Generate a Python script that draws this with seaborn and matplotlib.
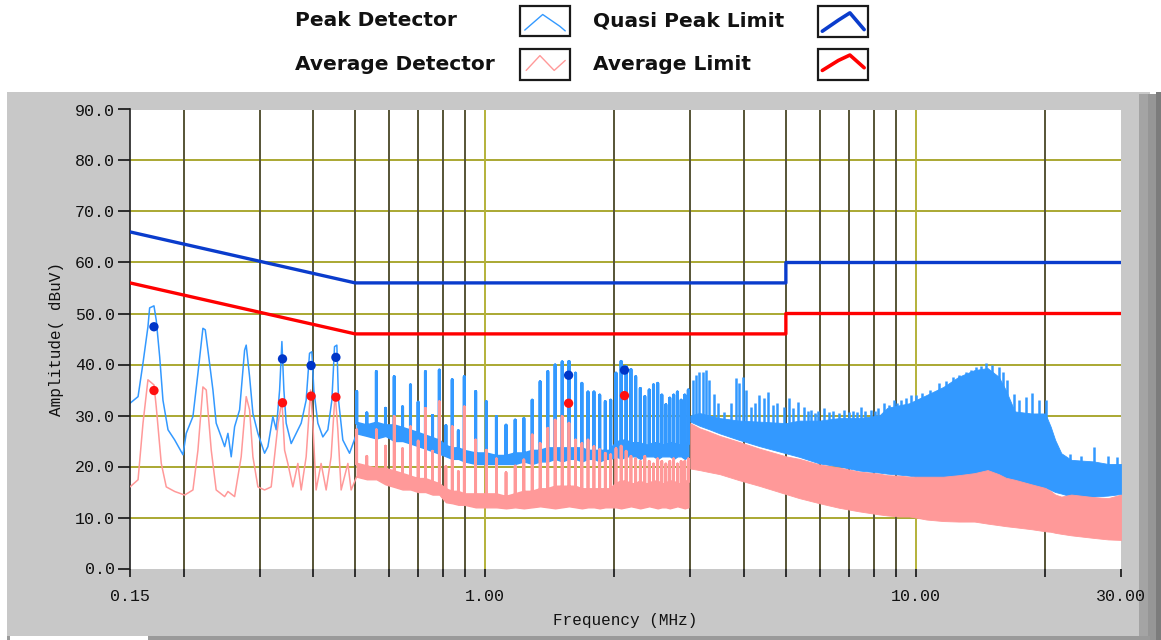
import numpy as np
import pandas as pd
import matplotlib
matplotlib.use("Agg")
import matplotlib.pyplot as plt
import seaborn as sns
from matplotlib.patches import Rectangle

# ---------------- data ----------------
qp_limit_f = [0.15, 0.5, 5.0, 5.0, 30.0]
qp_limit_v = [66.0, 56.0, 56.0, 60.0, 60.0]
av_limit_f = [0.15, 0.5, 5.0, 5.0, 30.0]
av_limit_v = [56.0, 46.0, 46.0, 50.0, 50.0]

qp_read_f = [0.1705, 0.339, 0.395, 0.451, 1.565, 2.110]
qp_read_v = [47.4, 41.1, 39.8, 41.4, 37.9, 38.9]
av_read_f = [0.1705, 0.339, 0.395, 0.451, 1.565, 2.110]
av_read_v = [34.9, 32.5, 33.8, 33.6, 32.4, 33.9]

# peak detector trace, 0.15 - 0.5 MHz
pk_low_f = [0.150, 0.1566, 0.1608, 0.1651, 0.1666, 0.1705, 0.1726, 0.1758, 0.1789, 0.1838,
            0.1905, 0.1991, 0.2026, 0.2100, 0.2157, 0.2215, 0.2243, 0.2275, 0.2337, 0.2378,
            0.2443, 0.2488, 0.2532, 0.2577, 0.2624, 0.2695, 0.2768, 0.2792, 0.2843, 0.2894,
            0.2972, 0.3080, 0.3135, 0.3220, 0.3278, 0.3338, 0.3379, 0.3415, 0.3457, 0.3551,
            0.3647, 0.3746, 0.3847, 0.3917, 0.3966, 0.4008, 0.4095, 0.4206, 0.4320, 0.4414,
            0.4477, 0.4533, 0.4574, 0.4680, 0.4851]
pk_low_v = [32.4, 33.7, 40.3, 47.4, 51.1, 51.5, 48.7, 41.5, 33.0, 27.2,
            25.2, 22.3, 26.5, 29.8, 38.3, 47.1, 46.8, 42.8, 35.0, 28.5,
            25.8, 23.9, 26.5, 21.9, 27.8, 31.1, 42.8, 43.8, 37.6, 30.4,
            26.5, 22.6, 23.9, 29.8, 27.2, 35.0, 44.5, 35.0, 28.5, 24.5,
            26.5, 28.5, 33.0, 42.2, 42.5, 35.0, 28.5, 25.8, 27.2, 33.0,
            43.5, 43.8, 33.0, 25.2, 22.6]

# average detector trace, 0.15 - 0.5 MHz
av_low_f = [0.150, 0.1566, 0.1608, 0.1651, 0.1705, 0.1726, 0.1773, 0.1821, 0.1905, 0.2009,
            0.2100, 0.2157, 0.2215, 0.2255, 0.2316, 0.2378, 0.2488, 0.2532, 0.2624, 0.2718,
            0.2792, 0.2843, 0.2894, 0.2972, 0.3080, 0.3191, 0.3312, 0.3379, 0.3428, 0.3488,
            0.3583, 0.3680, 0.3746, 0.3847, 0.3939, 0.3987, 0.4057, 0.4167, 0.4281, 0.4396,
            0.4491, 0.4557, 0.4638, 0.4808, 0.4892]
av_low_v = [16.0, 17.4, 28.5, 37.0, 36.0, 31.7, 20.6, 16.0, 15.1, 14.4,
            15.4, 23.2, 35.6, 35.0, 23.2, 15.4, 14.1, 15.1, 14.1, 21.9,
            33.7, 31.1, 21.9, 16.0, 15.4, 16.0, 28.5, 33.0, 23.2, 20.6,
            16.0, 20.6, 15.4, 21.9, 35.0, 28.5, 15.4, 20.6, 15.4, 21.9,
            34.4, 27.2, 15.4, 20.6, 15.4]

# harmonic spikes, 0.5 - 3 MHz
spk_f = [0.504, 0.532, 0.560, 0.588, 0.616, 0.644, 0.672, 0.700, 0.728, 0.756,
         0.784, 0.812, 0.840, 0.868, 0.896, 0.952, 1.008, 1.064, 1.120, 1.176,
         1.232, 1.288, 1.344, 1.400, 1.456, 1.512, 1.568, 1.624, 1.680, 1.736,
         1.792, 1.848, 1.904, 1.960, 2.016, 2.072, 2.128, 2.184, 2.240, 2.296,
         2.352, 2.408, 2.464, 2.520, 2.576, 2.632, 2.688, 2.744, 2.800, 2.856,
         2.912, 2.968]
pk_spk_top = [34.7, 30.5, 38.6, 31.4, 37.6, 31.7, 36.0, 32.6, 38.6, 30.0,
              38.9, 28.0, 37.0, 27.0, 37.6, 34.7, 32.7, 29.8, 28.1, 29.1,
              29.4, 33.0, 36.6, 38.6, 39.9, 40.5, 40.6, 38.3, 36.3, 34.6,
              34.6, 34.0, 32.7, 33.0, 38.3, 40.6, 39.6, 39.0, 37.6, 35.3,
              33.7, 35.0, 36.0, 36.3, 34.0, 32.1, 33.4, 34.0, 34.6, 33.0,
              34.0, 35.0]
pk_spk_body = [28.5, 28.0, 28.5, 28.0, 28.0, 27.5, 27.0, 26.5, 26.0, 25.5,
               25.0, 24.0, 23.5, 23.5, 23.0, 22.5, 22.5, 22.0, 22.0, 22.5,
               22.5, 23.0, 23.0, 23.5, 23.5, 23.5, 23.5, 23.5, 23.5, 23.0,
               23.0, 23.0, 23.0, 23.0, 24.5, 25.0, 25.0, 24.5, 24.5, 24.5,
               24.0, 24.0, 24.5, 24.5, 24.0, 24.0, 24.5, 24.5, 24.0, 24.0,
               24.5, 24.5]
pk_spk_base = [26.5, 26.0, 25.5, 26.0, 25.0, 25.0, 24.5, 24.0, 23.5, 23.0,
               22.5, 22.0, 21.5, 21.5, 21.0, 20.5, 20.5, 20.5, 20.5, 20.5,
               21.0, 20.5, 21.0, 21.0, 21.5, 21.0, 21.5, 21.5, 21.0, 21.5,
               21.5, 21.0, 21.5, 21.5, 22.0, 21.5, 22.0, 22.0, 22.0, 21.5,
               22.0, 22.0, 22.0, 21.5, 22.0, 22.0, 22.0, 21.5, 22.0, 22.0,
               21.5, 22.0]
av_spk_top = [27.2, 22.0, 27.2, 24.0, 29.8, 23.5, 27.8, 25.0, 31.4, 23.0,
              32.7, 20.0, 27.8, 19.0, 31.7, 25.2, 23.2, 21.5, 18.8, 20.1,
              21.3, 26.2, 24.5, 27.5, 29.1, 29.8, 28.5, 25.2, 24.5, 25.2,
              23.9, 23.3, 22.6, 22.3, 23.5, 24.0, 23.0, 22.0, 21.5, 21.0,
              22.0, 21.0, 20.5, 21.5, 21.0, 20.5, 21.0, 21.5, 20.5, 21.0,
              21.0, 21.5]
av_spk_body = [20.5, 20.0, 19.5, 19.5, 19.0, 18.5, 18.0, 17.5, 17.5, 17.0,
               16.5, 15.5, 15.0, 15.0, 14.5, 14.5, 14.5, 14.5, 14.0, 14.5,
               15.0, 15.0, 15.5, 15.5, 16.0, 16.0, 16.0, 16.0, 15.5, 15.5,
               15.5, 15.5, 15.5, 15.5, 16.5, 17.0, 17.0, 16.5, 16.5, 17.0,
               16.5, 16.5, 17.0, 17.0, 16.5, 16.5, 17.0, 17.0, 16.5, 16.5,
               17.0, 17.0]
av_spk_base = [18.0, 17.5, 17.5, 16.5, 16.0, 15.5, 15.5, 15.0, 15.0, 14.5,
               14.5, 13.0, 12.8, 12.5, 12.5, 12.0, 12.0, 12.0, 11.8, 12.0,
               11.8, 12.0, 12.2, 12.0, 11.8, 12.0, 12.2, 12.0, 11.8, 12.0,
               12.0, 11.8, 12.0, 12.0, 12.0, 11.8, 12.0, 12.2, 12.0, 11.8,
               12.0, 12.2, 12.0, 11.8, 12.0, 12.0, 11.8, 12.0, 12.2, 12.0,
               11.8, 12.0]

# dense band, 3 - 30 MHz (envelopes)
band_f = [3.0, 3.15, 3.32, 3.51, 3.9, 4.34, 5.0, 5.37, 5.98, 6.65,
          7.4, 8.24, 8.6, 9.17, 9.67, 10.0, 10.6, 11.6, 12.6, 13.7,
          14.7, 15.6, 16.2, 17.0, 18.6, 20.0, 20.6, 21.1, 21.8, 23.0,
          25.9, 28.0, 30.0]
pk_band_hi = [30.0, 30.5, 30.0, 29.5, 29.0, 28.8, 28.5, 29.0, 29.0, 29.5,
              29.5, 30.0, 31.5, 32.0, 32.4, 33.0, 34.0, 35.6, 37.6, 38.9,
              39.3, 37.6, 35.0, 30.8, 30.4, 30.4, 27.8, 25.2, 22.6, 21.3,
              21.0, 20.5, 20.5]
pk_band_lo = [28.8, 28.0, 27.3, 26.5, 25.2, 24.0, 22.6, 21.9, 20.6, 20.0,
              19.2, 18.8, 18.6, 18.4, 18.2, 18.0, 17.8, 17.5, 17.6, 18.0,
              17.8, 17.4, 17.2, 16.8, 16.2, 15.8, 15.4, 15.0, 14.7, 14.1,
              14.1, 14.3, 14.6]
av_band_hi = [28.5, 27.5, 26.8, 26.0, 24.8, 23.5, 22.0, 21.5, 20.4, 19.8,
              19.0, 18.6, 18.3, 18.2, 18.0, 18.0, 18.0, 18.0, 18.3, 18.7,
              19.3, 18.5, 17.8, 17.4, 16.5, 15.8, 15.2, 14.5, 14.1, 14.5,
              14.0, 13.8, 14.5]
av_band_lo = [19.6, 19.3, 18.9, 18.5, 17.3, 16.2, 14.6, 13.8, 12.8, 11.9,
              11.2, 10.6, 10.4, 10.2, 10.2, 10.0, 9.6, 9.3, 9.2, 9.2,
              8.8, 8.5, 8.3, 8.1, 7.7, 7.3, 7.2, 7.0, 6.8, 6.5,
              6.0, 5.7, 5.6]

# peak-detector spikes rising above the dense band
hf_spk_f = [3.04, 3.09, 3.15, 3.21, 3.26, 3.32, 3.41, 3.47, 3.60, 3.73,
            3.83, 3.90, 3.97, 4.04, 4.15, 4.25, 4.34, 4.46, 4.54, 4.66,
            4.78, 4.96, 5.09, 5.20, 5.33, 5.52, 5.62, 5.72, 5.85, 5.95,
            6.14, 6.30, 6.45, 6.65, 6.83, 7.00, 7.15, 7.30, 7.47, 7.65,
            7.88, 8.05, 8.20, 8.46, 8.70, 8.93, 9.05, 9.25, 9.50, 9.76,
            10.00, 10.38, 10.80, 11.35, 11.75, 12.19, 12.60, 13.09, 13.45, 13.81,
            14.20, 14.57, 15.09, 15.64, 16.00, 16.35, 16.94, 17.40, 18.03, 18.68,
            19.37, 20.04, 22.8, 24.2, 25.9, 28.0, 29.3]
hf_spk_top = [37.0, 37.9, 38.6, 38.6, 38.9, 37.0, 34.3, 32.4, 30.7, 32.4,
              37.3, 36.3, 37.6, 35.0, 31.7, 32.5, 34.0, 33.4, 34.7, 32.0,
              32.4, 31.7, 33.4, 31.5, 32.7, 31.7, 30.8, 31.1, 30.5, 30.8,
              31.4, 30.6, 30.8, 30.5, 31.1, 30.6, 30.8, 30.6, 31.7, 30.8,
              31.1, 30.8, 31.4, 32.4, 32.0, 33.0, 32.5, 33.0, 33.4, 34.0,
              34.0, 34.4, 35.0, 36.3, 36.8, 37.6, 38.0, 38.6, 39.0, 39.6,
              39.8, 40.2, 40.0, 39.6, 38.5, 37.0, 34.3, 33.0, 33.7, 34.4,
              33.0, 33.0, 22.5, 22.0, 23.9, 22.0, 21.8]
hf_spk_base = [29.0, 29.0, 29.0, 29.0, 29.0, 29.0, 28.0, 28.0, 28.0, 28.0,
               28.0, 28.0, 28.0, 28.0, 28.0, 28.0, 28.0, 28.0, 28.0, 28.0,
               28.0, 28.0, 28.0, 28.0, 28.0, 28.0, 28.0, 28.0, 28.0, 28.0,
               28.0, 28.0, 28.0, 28.0, 28.0, 28.0, 28.0, 28.0, 28.0, 28.0,
               28.0, 28.0, 28.0, 28.0, 28.0, 30.0, 30.0, 30.0, 30.0, 31.0,
               31.0, 32.0, 32.0, 34.0, 34.0, 35.0, 35.0, 36.0, 36.0, 37.0,
               37.0, 37.0, 37.0, 36.0, 35.0, 34.0, 30.0, 29.0, 29.0, 29.0,
               29.0, 29.0, 20.0, 20.0, 20.0, 20.0, 20.0]

y_ticks = [0, 10, 20, 30, 40, 50, 60, 70, 80, 90]
y_tick_labels = ["0.0", "10.0", "20.0", "30.0", "40.0", "50.0", "60.0", "70.0", "80.0", "90.0"]
x_major = [0.15, 1.0, 10.0, 30.0]
x_major_labels = ["0.15", "1.00", "10.00", "30.00"]
x_minor = [0.2, 0.3, 0.4, 0.5, 0.6, 0.7, 0.8, 0.9, 2, 3, 4, 5, 6, 7, 8, 9, 20]

legend_items = ["Peak Detector", "Average Detector", "Quasi Peak Limit", "Average Limit"]

# ---------------- style ----------------
sns.set_theme(style="white")
plt.rcParams['font.family'] = ['DejaVu Sans']

PK_COL = '#3399ff'
AV_COL = '#ff9999'
QP_LIM = '#0a3ccc'
AV_LIM = '#ff0000'
GRID_H = '#aaa832'
GRID_V = '#565436'
GRID_MAJ = '#b4b23a'
MONO = 'Liberation Mono'

W, H = 1161, 640
fig = plt.figure(figsize=(W / 100, H / 100), dpi=100)
fig.patch.set_facecolor('white')

# background panel (pixel coordinates)
bg = fig.add_axes([0, 0, 1, 1], zorder=0)
bg.set_xlim(0, W)
bg.set_ylim(H, 0)
bg.axis('off')
bg.add_patch(Rectangle((7, 92), 1143, 548, facecolor='#c8c8c8', edgecolor='none'))
bg.add_patch(Rectangle((1139, 94), 9, 546, facecolor='#a4a4a4', edgecolor='none'))
bg.add_patch(Rectangle((1148, 94), 8, 546, facecolor='#969696', edgecolor='none'))
bg.add_patch(Rectangle((1156, 92), 5, 548, facecolor='#7c7c7c', edgecolor='none'))
bg.add_patch(Rectangle((7, 636), 1143, 4, facecolor='#9a9a9a', edgecolor='none'))
bg.add_patch(Rectangle((10, 636), 138, 4, facecolor='white', edgecolor='none'))

# legend
text_pos = [(295, 21), (295, 64), (593, 21), (593, 64)]
for (tx, ty), lab in zip(text_pos, legend_items):
    bg.text(tx, ty, lab, fontsize=14.5, fontweight='bold', color='#111111',
            va='center', ha='left', family='DejaVu Sans')
boxes = [(520, 6, 50, 30), (520, 49, 50, 31), (818, 6, 50, 31), (818, 49, 50, 31)]
icons = [
    ([0.06, 0.45, 0.82, 0.94], [0.85, 0.25, 0.70, 0.88], PK_COL, 1.0),
    ([0.09, 0.39, 0.70, 0.94], [0.72, 0.17, 0.72, 0.35], AV_COL, 1.0),
    ([0.05, 0.40, 0.65, 0.96], [0.86, 0.45, 0.18, 0.80], QP_LIM, 2.6),
    ([0.05, 0.40, 0.65, 0.96], [0.72, 0.35, 0.15, 0.62], AV_LIM, 2.6),
]
for (bx, by, bw, bh), (ix, iy, col, lw) in zip(boxes, icons):
    bg.add_patch(Rectangle((bx, by), bw, bh, facecolor='white', edgecolor='#1a1a1a', lw=1.6))
    bg.plot([bx + 2 + v * (bw - 4) for v in ix], [by + 2 + v * (bh - 4) for v in iy],
            color=col, lw=lw, solid_joinstyle='round')

# main axes
x0, x1, ytop, ybot = 130, 1121, 109.5, 568.5
ax = fig.add_axes([x0 / W, (H - ybot) / H, (x1 - x0) / W, (ybot - ytop) / H], zorder=2)
ax.set_facecolor('white')
ax.set_xscale('log')
ax.set_xlim(0.15, 30)
ax.set_ylim(0, 90)

# grid
for yv in y_ticks[1:-1]:
    ax.axhline(yv, color=GRID_H, lw=1.4, zorder=0.5)
for xv in x_minor:
    ax.axvline(xv, color=GRID_V, lw=1.4, zorder=0.5)
for xv in [1.0, 10.0]:
    ax.axvline(xv, color=GRID_MAJ, lw=1.4, zorder=0.5)

# peak detector
sns.lineplot(x=pk_low_f + [spk_f[0]], y=pk_low_v + [pk_spk_base[0]], ax=ax, color=PK_COL,
             lw=1.1, sort=False, estimator=None, zorder=2)
pk_x = np.column_stack([spk_f, spk_f, spk_f]).ravel()
pk_y = np.column_stack([pk_spk_body, pk_spk_top, pk_spk_body]).ravel()
ax.fill_between(spk_f, pk_spk_base, pk_spk_body, color=PK_COL, lw=1.0, edgecolor=PK_COL, zorder=2)
sns.lineplot(x=pk_x, y=pk_y, ax=ax, color=PK_COL, lw=2.2, sort=False, estimator=None, zorder=2)
ax.fill_between(band_f, pk_band_lo, pk_band_hi, color=PK_COL, lw=0.6, edgecolor=PK_COL, zorder=2)
ax.vlines(hf_spk_f, hf_spk_base, hf_spk_top, color=PK_COL, lw=1.8, zorder=2)

# average detector
sns.lineplot(x=av_low_f + [spk_f[0]], y=av_low_v + [av_spk_base[0]], ax=ax, color=AV_COL,
             lw=1.1, sort=False, estimator=None, zorder=3)
av_x = np.column_stack([spk_f, spk_f, spk_f]).ravel()
av_y = np.column_stack([av_spk_body, av_spk_top, av_spk_body]).ravel()
ax.fill_between(spk_f, av_spk_base, av_spk_body, color=AV_COL, lw=1.0, edgecolor=AV_COL, zorder=3)
sns.lineplot(x=av_x, y=av_y, ax=ax, color=AV_COL, lw=2.0, sort=False, estimator=None, zorder=3)
ax.fill_between(band_f, av_band_lo, av_band_hi, color=AV_COL, lw=0.6, edgecolor=AV_COL, zorder=3)

# limits
sns.lineplot(x=qp_limit_f, y=qp_limit_v, ax=ax, color=QP_LIM, lw=2.4, sort=False, estimator=None, zorder=4)
sns.lineplot(x=av_limit_f, y=av_limit_v, ax=ax, color=AV_LIM, lw=2.4, sort=False, estimator=None, zorder=4)

# final readings
sns.scatterplot(x=qp_read_f, y=qp_read_v, ax=ax, color='#0036c8', s=45, edgecolor='none', zorder=5)
sns.scatterplot(x=av_read_f, y=av_read_v, ax=ax, color='#ff1010', s=45, edgecolor='none', zorder=5)

# axes cosmetics
for s in ['top', 'right', 'bottom']:
    ax.spines[s].set_visible(False)
ax.spines['left'].set_color('#202020')
ax.spines['left'].set_linewidth(1.2)

ax.set_yticks(y_ticks)
ax.set_yticklabels(y_tick_labels)
ax.set_xticks(x_major)
ax.set_xticklabels(x_major_labels)
ax.set_xticks(x_minor, minor=True)
ax.set_xticklabels([], minor=True)
ax.tick_params(axis='y', which='both', left=True, length=9, width=1.3, color='#202020',
               pad=2, labelsize=12, labelcolor='#111111')
ax.tick_params(axis='x', which='both', bottom=True, length=6, width=1.3, color='#202020',
               pad=9, labelsize=12, labelcolor='#111111')
for lab in ax.get_xticklabels() + ax.get_yticklabels():
    lab.set_fontfamily(MONO)

ax.set_xlabel("Frequency (MHz)", fontsize=11.5, family=MONO, color='#111111', labelpad=6)
ax.set_ylabel("Amplitude( dBuV)", fontsize=11.5, family=MONO, color='#111111', labelpad=8)

fig.savefig("out.png", dpi=100, facecolor=fig.get_facecolor())
